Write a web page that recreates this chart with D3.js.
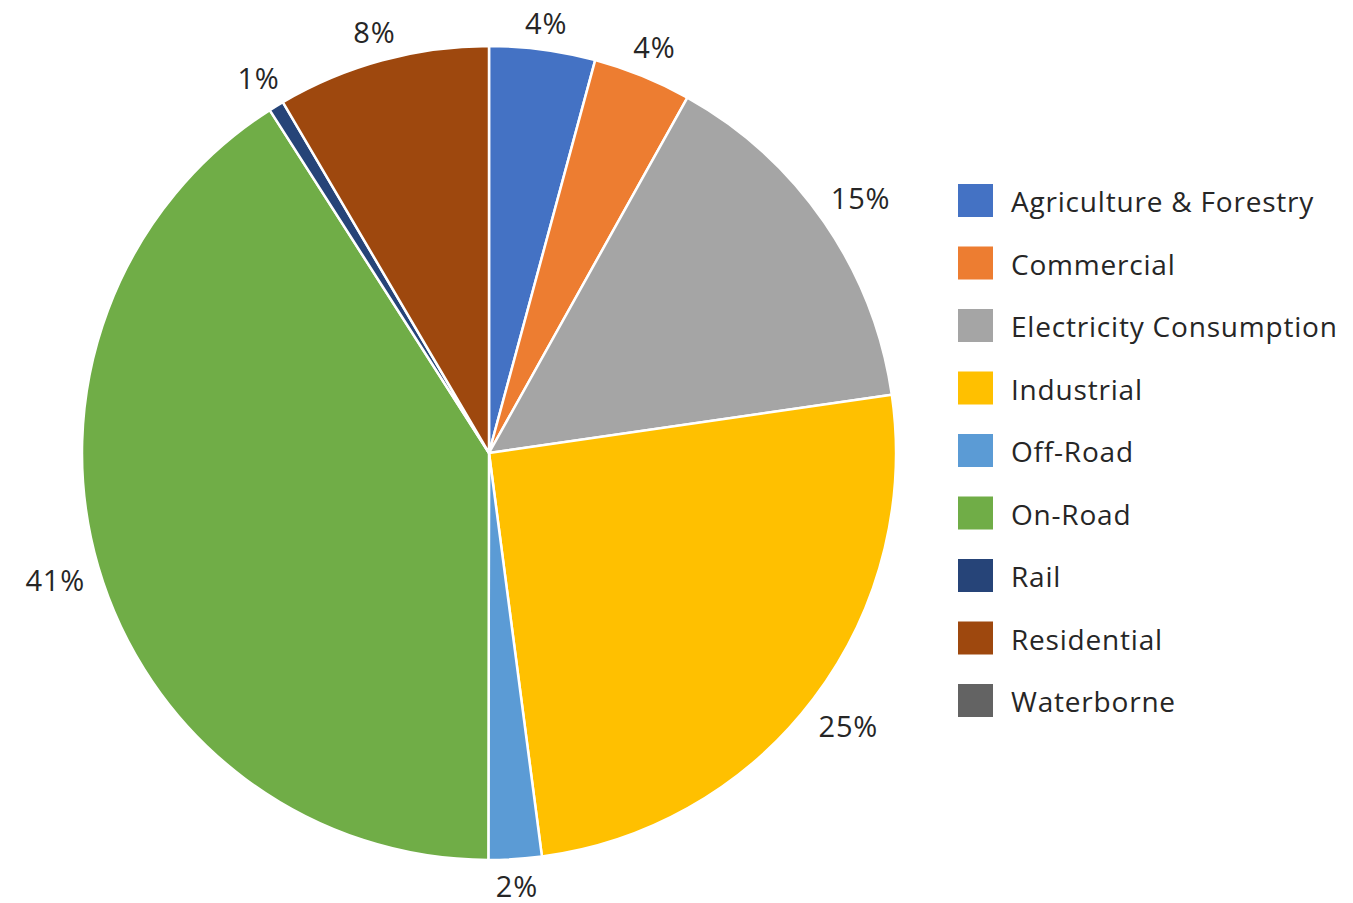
<!DOCTYPE html>
<html>
<head>
<meta charset="utf-8">
<script src="https://cdn.jsdelivr.net/npm/d3@7"></script>
<style>
  html, body { margin: 0; padding: 0; background: #fff; }
  svg { display: block; font-family: "Open Sans", "Noto Sans", sans-serif; }
</style>
</head>
<body>
<svg id="chart" width="1353" height="903"></svg>
<script>
// Emissions share by sector (percent)
const categories = [
  "Agriculture & Forestry", "Commercial", "Electricity Consumption", "Industrial",
  "Off-Road", "On-Road", "Rail", "Residential", "Waterborne"
];
const values = [4.2, 3.9, 14.6, 25.2, 2.1, 40.9, 0.6, 8.45, 0];
const colors = [
  "#4472C4", "#ED7D31", "#A5A5A5", "#FFC000",
  "#5B9BD5", "#70AD47", "#264478", "#9E480E", "#636363"
];

const svg = d3.select("#chart");
const cx = 489, cy = 453, r = 407;

const data = categories.map((c, i) => ({ name: c, value: values[i], color: colors[i] }));
const total = d3.sum(values);

const pie = d3.pie().value(d => d.value).sort(null);
const arc = d3.arc().innerRadius(0).outerRadius(r);
const arcs = pie(data);

const g = svg.append("g").attr("transform", `translate(${cx},${cy})`);

g.selectAll("path.slice")
  .data(arcs.filter(a => a.data.value > 0))
  .join("path")
  .attr("class", "slice")
  .attr("d", arc)
  .attr("fill", d => d.data.color)
  .attr("stroke", "#fff")
  .attr("stroke-width", 2.5)
  .attr("stroke-linejoin", "round");

// Percentage labels placed just outside the rim
const labelSize = 29;
const labels = g.selectAll("text.pct")
  .data(arcs.filter(a => a.data.value / total >= 0.005))
  .join("text")
  .attr("class", "pct")
  .attr("font-size", labelSize)
  .attr("letter-spacing", 0.8)
  .attr("fill", "#262626")
  .attr("text-anchor", "middle")
  .attr("dominant-baseline", "central")
  .text(d => Math.round(d.data.value / total * 100) + "%");

labels.each(function(d) {
  const a = (d.startAngle + d.endAngle) / 2;
  const w = this.getComputedTextLength();
  const hw = w / 2, hh = labelSize * 0.4;
  const s = Math.sin(a), c = -Math.cos(a);
  const dist = r + 13 + hw * Math.abs(s) + hh * Math.abs(c);
  d3.select(this).attr("x", dist * s).attr("y", dist * c);
});

// Legend
const legend = svg.append("g").attr("transform", "translate(958,184)");
const rowH = 62.5;
const items = legend.selectAll("g.item")
  .data(data)
  .join("g")
  .attr("class", "item")
  .attr("transform", (d, i) => `translate(0,${i * rowH})`);

items.append("rect")
  .attr("width", 35)
  .attr("height", 33)
  .attr("fill", d => d.color);

items.append("text")
  .attr("x", 53)
  .attr("y", 17)
  .attr("dominant-baseline", "central")
  .attr("font-size", 28)
  .attr("letter-spacing", 0.8)
  .attr("fill", "#262626")
  .text(d => d.name);
</script>
</body>
</html>
